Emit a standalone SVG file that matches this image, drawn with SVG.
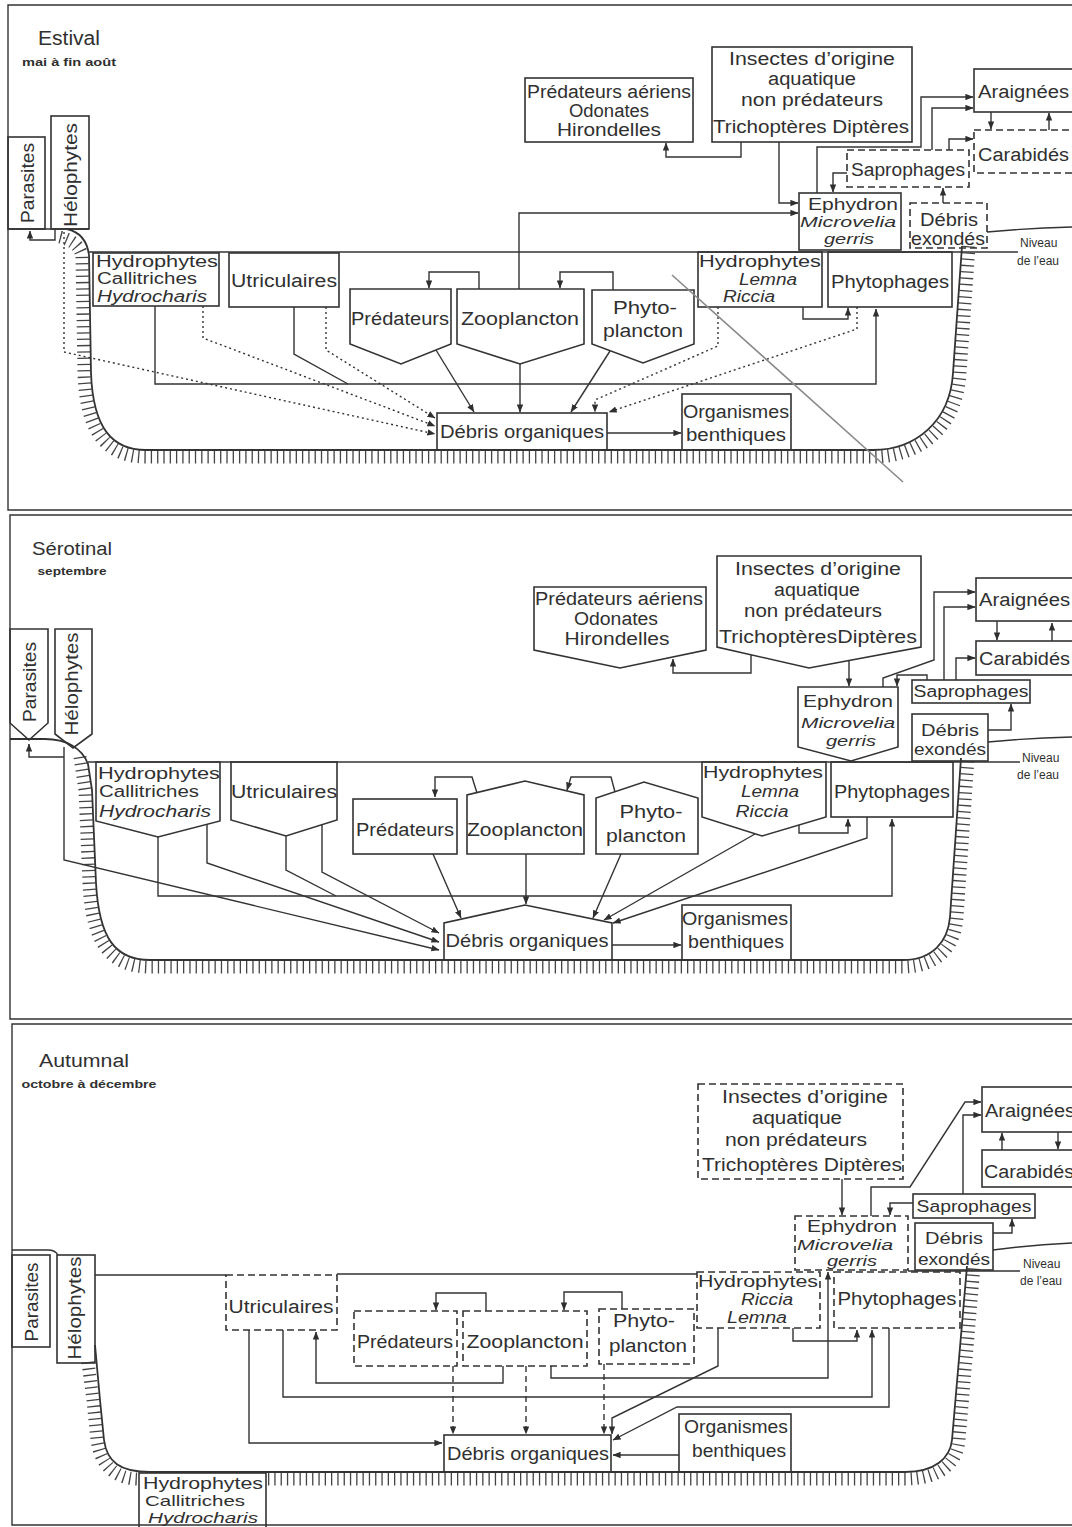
<svg xmlns="http://www.w3.org/2000/svg" width="1072" height="1527" viewBox="0 0 1072 1527">
<defs>
<marker id="ah" viewBox="0 0 10 8" refX="9.5" refY="4" markerWidth="8" markerHeight="6.5" markerUnits="userSpaceOnUse" orient="auto"><path d="M0,0 L10,4 L0,8 z" fill="#2f2f2f"/></marker>
</defs>
<style>
.bx{fill:none;stroke:#333;stroke-width:1.6}
.dx{stroke-dasharray:7 4}
.ln{fill:none;stroke:#333;stroke-width:1.4}
.ar{marker-end:url(#ah)}
.dt{stroke-dasharray:2 3}
.ds{stroke-dasharray:6 4}
.tk{fill:none;stroke:#444;stroke-width:13;stroke-dasharray:1.3 5}
.bank{fill:none;stroke:#333;stroke-width:1.8}
text{font-family:"Liberation Sans",Arial,sans-serif;font-size:18px;fill:#303030;text-anchor:middle}
.s{text-anchor:start}
.i{font-style:italic}
.sm{font-size:12px;text-anchor:start}
.ti{font-size:20px}
.sub{font-size:11px;font-weight:bold}
.f16{font-size:16px}
.f15{font-size:15px}
</style>
<rect width="1072" height="1527" fill="#fff"/>

<!-- ================= PANEL 1 : ESTIVAL ================= -->
<g id="p1-scene">
<path class="ln" d="M1072,5 H8 V510 H1072"/>
<path class="ln" d="M8,229 H89"/>
<path class="ln" d="M89,252 H1018"/>
<path class="tk" d="M60,237 C72,240 80,246 82,256 L84,373 C86,434 108,457 146,457 L873,457 C920,457 957,427 960,373 L969,246"/>
<path class="bank" d="M67,229 C80,232 87,240 89,255 L91,373 C93,428 112,450 146,450 L873,450 C915,450 950,422 953,373 L962,246"/>
<path class="ln" d="M987,232 Q1030,228 1072,227"/>
<text x="69" y="45" class="ti" textLength="62" lengthAdjust="spacingAndGlyphs">Estival</text>
<text x="69" y="66" class="sub" textLength="94" lengthAdjust="spacingAndGlyphs">mai à fin août</text>
<text x="1020" y="247" class="sm">Niveau</text>
<text x="1017" y="265" class="sm">de l’eau</text>
</g>
<g id="p1-connectors">
<path class="ln ar" d="M55,229 V240 H30 V231"/>
<path class="ln ar dt" d="M64,232 V352 L435,434"/>
<path class="ln ar dt" d="M203,306 V338 L435,426"/>
<path class="ln ar dt" d="M326,307 V350 L435,418"/>
<path class="ln ar" d="M155,306 V384 H876 V309"/>
<path class="ln" d="M294,307 V354 L348,384"/>
<path class="ln ar" d="M436,350 L474,412"/>
<path class="ln ar" d="M520,364 V412"/>
<path class="ln ar" d="M610,351 L571,412"/>
<path class="ln ar" d="M479,289 V272 H429 V288"/>
<path class="ln ar" d="M613,290 V272 H560 V288"/>
<path class="ln ar dt" d="M718,307 V346 L595,400 V412"/>
<path class="ln ar dt" d="M857,307 V329 L609,412"/>
<path class="ln ar" d="M803,307 V319 H848 V308"/>
<path class="ln ar" d="M607,433 H681"/>
<path class="ln ar" d="M519,289 V213 H798"/>
<path class="ln ar" d="M741,142 V157 H666 V143"/>
<path class="ln ar" d="M779,142 V203 H798"/>
<path class="ln ar" d="M817,193 V147 H921 V97 H973"/>
<path class="ln ar" d="M932,150 V108 H973"/>
<path class="ln ar" d="M949,150 V139 H973"/>
<path class="ln ar" d="M847,173 H833 V192"/>
<path class="ln ar" d="M943,203 V188"/>
<path class="ln ar" d="M991,112 V129"/>
<path class="ln ar" d="M1049,130 V113"/>
</g>
<g id="p1-parasites"><rect class="bx" x="8" y="137" width="37" height="92"/><text transform="translate(34,183) rotate(-90)" textLength="80" lengthAdjust="spacingAndGlyphs">Parasites</text></g>
<g id="p1-helophytes"><rect class="bx" x="51" y="116" width="38" height="113"/><text transform="translate(77,175) rotate(-90)" textLength="104" lengthAdjust="spacingAndGlyphs">Hélophytes</text></g>
<g id="p1-hydrophytes-callitriches"><rect class="bx" x="93" y="253" width="126" height="53"/>
<text class="s f16" x="96" y="267" textLength="122" lengthAdjust="spacingAndGlyphs">Hydrophytes</text>
<text class="s f16" x="97" y="284" textLength="100" lengthAdjust="spacingAndGlyphs">Callitriches</text>
<text class="s i f16" x="97" y="302" textLength="110" lengthAdjust="spacingAndGlyphs">Hydrocharis</text></g>
<g id="p1-utriculaires"><rect class="bx" x="229" y="253" width="110" height="54"/><text x="284" y="287" textLength="106" lengthAdjust="spacingAndGlyphs">Utriculaires</text></g>
<g id="p1-predateurs"><polygon class="bx" points="350,289 451,289 451,344 401,364 350,344"/><text x="400" y="325" textLength="98" lengthAdjust="spacingAndGlyphs">Prédateurs</text></g>
<g id="p1-zooplancton"><polygon class="bx" points="457,289 584,289 584,344 520,364 457,344"/><text x="520" y="325" textLength="118" lengthAdjust="spacingAndGlyphs">Zooplancton</text></g>
<g id="p1-phytoplancton"><polygon class="bx" points="592,290 694,290 694,344 643,363 592,344"/><text x="645" y="314" textLength="64" lengthAdjust="spacingAndGlyphs">Phyto-</text><text x="643" y="337" textLength="80" lengthAdjust="spacingAndGlyphs">plancton</text></g>
<g id="p1-hydrophytes-lemna"><rect class="bx" x="698" y="252" width="124" height="55"/>
<text class="s f16" x="699" y="267" textLength="122" lengthAdjust="spacingAndGlyphs">Hydrophytes</text>
<text class="i f16" x="768" y="285" textLength="58" lengthAdjust="spacingAndGlyphs">Lemna</text>
<text class="i f16" x="749" y="302" textLength="52" lengthAdjust="spacingAndGlyphs">Riccia</text></g>
<g id="p1-phytophages"><rect class="bx" x="828" y="252" width="124" height="55"/><text x="890" y="288" textLength="118" lengthAdjust="spacingAndGlyphs">Phytophages</text></g>
<g id="p1-debris-organiques"><rect class="bx" x="437" y="413" width="170" height="37"/><text x="522" y="438" textLength="164" lengthAdjust="spacingAndGlyphs">Débris organiques</text></g>
<g id="p1-organismes-benthiques"><rect class="bx" x="682" y="394" width="109" height="56"/><text x="736" y="418" textLength="106" lengthAdjust="spacingAndGlyphs">Organismes</text><text x="736" y="441" textLength="100" lengthAdjust="spacingAndGlyphs">benthiques</text></g>
<g id="p1-predateurs-aeriens"><rect class="bx" x="525" y="78" width="168" height="64"/>
<text x="609" y="98" textLength="164" lengthAdjust="spacingAndGlyphs">Prédateurs aériens</text>
<text x="609" y="117" textLength="80" lengthAdjust="spacingAndGlyphs">Odonates</text>
<text x="609" y="136" textLength="104" lengthAdjust="spacingAndGlyphs">Hirondelles</text></g>
<g id="p1-insectes"><rect class="bx" x="712" y="47" width="200" height="95"/>
<text x="812" y="65" textLength="166" lengthAdjust="spacingAndGlyphs">Insectes d’origine</text>
<text x="812" y="85" textLength="88" lengthAdjust="spacingAndGlyphs">aquatique</text>
<text x="812" y="106" textLength="142" lengthAdjust="spacingAndGlyphs">non  prédateurs</text>
<text x="811" y="133" textLength="196" lengthAdjust="spacingAndGlyphs">Trichoptères Diptères</text></g>
<g id="p1-araignees"><rect class="bx" x="974" y="69" width="110" height="43"/><text class="s" x="978" y="98" textLength="91" lengthAdjust="spacingAndGlyphs">Araignées</text></g>
<g id="p1-carabides"><rect class="bx dx" x="974" y="130" width="110" height="43"/><text class="s" x="978" y="161" textLength="91" lengthAdjust="spacingAndGlyphs">Carabidés</text></g>
<g id="p1-saprophages"><rect class="bx dx" x="847" y="150" width="122" height="37"/><text x="908" y="176" textLength="114" lengthAdjust="spacingAndGlyphs">Saprophages</text></g>
<g id="p1-ephydron"><rect class="bx" x="799" y="193" width="102" height="57"/>
<text class="f16" x="853" y="210" textLength="90" lengthAdjust="spacingAndGlyphs">Ephydron</text>
<text class="i f15" x="848" y="227" textLength="96" lengthAdjust="spacingAndGlyphs">Microvelia</text>
<text class="i f15" x="849" y="244" textLength="50" lengthAdjust="spacingAndGlyphs">gerris</text></g>
<g id="p1-debris-exondes"><rect class="bx dx" x="910" y="203" width="77" height="45"/>
<text x="949" y="226" textLength="58" lengthAdjust="spacingAndGlyphs">Débris</text>
<text x="948" y="245" textLength="74" lengthAdjust="spacingAndGlyphs">exondés</text></g>
<path d="M672,275 L903,482" stroke="#8a8a8a" stroke-width="1.6" fill="none"/>

<!-- ================= PANEL 2 : SEROTINAL ================= -->
<g id="p2-scene">
<path class="ln" d="M1072,515 H10 V1019 H1072"/>
<path class="ln" d="M88,762 H1020"/>
<path class="tk" d="M80,757 L85,790 L89,883 C92,945 112,967 150,967 L903,967 C937,967 955,947 957,917 L968,758"/>
<path class="bank" d="M10,739 H45 C66,739 82,748 88,764 L92,790 L96,883 C99,938 115,960 150,960 L903,960 C932,960 948,942 950,917 L961,758"/>
<path class="ln" d="M988,742 Q1030,738 1072,737"/>
<text x="72" y="555" font-size="19" textLength="80" lengthAdjust="spacingAndGlyphs">Sérotinal</text>
<text x="72" y="575" class="sub" textLength="69" lengthAdjust="spacingAndGlyphs">septembre</text>
<text x="1022" y="762" class="sm">Niveau</text>
<text x="1017" y="779" class="sm">de l’eau</text>
</g>
<g id="p2-connectors">
<path class="ln ar" d="M64,757 H29 V744"/>
<path class="ln ar" d="M64,747 V860 L439,950"/>
<path class="ln ar" d="M158,837 V896 H892 V819"/>
<path class="ln ar" d="M207,824 V863 L439,942"/>
<path class="ln" d="M286,836 V870 L336,896"/>
<path class="ln ar" d="M322,825 V872 L439,933"/>
<path class="ln ar" d="M433,854 L461,918"/>
<path class="ln ar" d="M526,854 V904"/>
<path class="ln ar" d="M477,793 L472,777 H435 V797"/>
<path class="ln ar" d="M615,792 L611,777 H571 L567,790"/>
<path class="ln ar" d="M621,854 L593,918"/>
<path class="ln ar" d="M755,834 L604,920"/>
<path class="ln ar" d="M867,817 V838 L613,923"/>
<path class="ln ar" d="M799,825 V833 H848 V819"/>
<path class="ln ar" d="M612,945 H681"/>
<path class="ln ar" d="M751,655 V673 H673 V659"/>
<path class="ln ar" d="M849,661 V686"/>
<path class="ln ar" d="M883,687 V678 L934,660 V592 H975"/>
<path class="ln ar" d="M944,680 V607 H975"/>
<path class="ln ar" d="M956,680 V658 H975"/>
<path class="ln ar" d="M927,680 V675 H897 V686"/>
<path class="ln ar" d="M988,730 H1011 V704"/>
<path class="ln ar" d="M997,621 V640"/>
<path class="ln ar" d="M1052,641 V623"/>
</g>
<g id="p2-parasites"><polygon class="bx" points="10,629 48,629 48,723 29,740 10,723"/><text transform="translate(36,682) rotate(-90)" textLength="80" lengthAdjust="spacingAndGlyphs">Parasites</text></g>
<g id="p2-helophytes"><polygon class="bx" points="55,629 92,629 92,734 73,748 55,734"/><text transform="translate(78,684) rotate(-90)" textLength="103" lengthAdjust="spacingAndGlyphs">Hélophytes</text></g>
<g id="p2-hydrophytes-callitriches"><polygon class="bx" points="96,762 220,762 220,821 158,837 96,821"/>
<text class="s f16" x="98" y="779" textLength="122" lengthAdjust="spacingAndGlyphs">Hydrophytes</text>
<text class="s f16" x="99" y="797" textLength="100" lengthAdjust="spacingAndGlyphs">Callitriches</text>
<text class="s i f16" x="99" y="817" textLength="112" lengthAdjust="spacingAndGlyphs">Hydrocharis</text></g>
<g id="p2-utriculaires"><polygon class="bx" points="231,762 337,762 337,820 286,836 231,820"/><text x="284" y="798" textLength="106" lengthAdjust="spacingAndGlyphs">Utriculaires</text></g>
<g id="p2-predateurs"><rect class="bx" x="353" y="799" width="104" height="55"/><text x="405" y="836" textLength="98" lengthAdjust="spacingAndGlyphs">Prédateurs</text></g>
<g id="p2-zooplancton"><polygon class="bx" points="467,854 467,795 525,781 584,795 584,854"/><text x="525" y="836" textLength="116" lengthAdjust="spacingAndGlyphs">Zooplancton</text></g>
<g id="p2-phytoplancton"><polygon class="bx" points="596,854 596,798 644,782 698,798 698,854"/><text x="651" y="818" textLength="63" lengthAdjust="spacingAndGlyphs">Phyto-</text><text x="646" y="842" textLength="80" lengthAdjust="spacingAndGlyphs">plancton</text></g>
<g id="p2-hydrophytes-lemna"><polygon class="bx" points="702,762 826,762 826,817 762,836 702,817"/>
<text class="s f16" x="703" y="778" textLength="120" lengthAdjust="spacingAndGlyphs">Hydrophytes</text>
<text class="i f16" x="770" y="797" textLength="58" lengthAdjust="spacingAndGlyphs">Lemna</text>
<text class="i f16" x="762" y="817" textLength="53" lengthAdjust="spacingAndGlyphs">Riccia</text></g>
<g id="p2-phytophages"><rect class="bx" x="831" y="762" width="122" height="55"/><text x="892" y="798" textLength="116" lengthAdjust="spacingAndGlyphs">Phytophages</text></g>
<g id="p2-debris-organiques"><polygon class="bx" points="444,960 444,923 525,905 612,923 612,960"/><text x="527" y="947" textLength="163" lengthAdjust="spacingAndGlyphs">Débris organiques</text></g>
<g id="p2-organismes-benthiques"><rect class="bx" x="682" y="905" width="109" height="55"/><text x="735" y="925" textLength="106" lengthAdjust="spacingAndGlyphs">Organismes</text><text x="736" y="948" textLength="96" lengthAdjust="spacingAndGlyphs">benthiques</text></g>
<g id="p2-predateurs-aeriens"><polygon class="bx" points="534,587 706,587 706,650 620,668 534,650"/>
<text x="619" y="605" textLength="168" lengthAdjust="spacingAndGlyphs">Prédateurs aériens</text>
<text x="616" y="625" textLength="84" lengthAdjust="spacingAndGlyphs">Odonates</text>
<text x="617" y="645" textLength="105" lengthAdjust="spacingAndGlyphs">Hirondelles</text></g>
<g id="p2-insectes"><polygon class="bx" points="717,556 921,556 921,647 809,668 717,647"/>
<text x="818" y="575" textLength="166" lengthAdjust="spacingAndGlyphs">Insectes d’origine</text>
<text x="817" y="596" textLength="86" lengthAdjust="spacingAndGlyphs">aquatique</text>
<text x="813" y="617" textLength="138" lengthAdjust="spacingAndGlyphs">non  prédateurs</text>
<text x="818" y="643" textLength="198" lengthAdjust="spacingAndGlyphs">TrichoptèresDiptères</text></g>
<g id="p2-araignees"><rect class="bx" x="976" y="578" width="110" height="43"/><text class="s" x="979" y="606" textLength="91" lengthAdjust="spacingAndGlyphs">Araignées</text></g>
<g id="p2-carabides"><rect class="bx" x="976" y="641" width="110" height="34"/><text class="s" x="979" y="665" textLength="91" lengthAdjust="spacingAndGlyphs">Carabidés</text></g>
<g id="p2-saprophages"><rect class="bx" x="912" y="680" width="118" height="23"/><text class="f16" x="971" y="697" textLength="115" lengthAdjust="spacingAndGlyphs">Saprophages</text></g>
<g id="p2-ephydron"><polygon class="bx" points="798,687 898,687 898,747 851,761 798,747"/>
<text class="f16" x="848" y="707" textLength="90" lengthAdjust="spacingAndGlyphs">Ephydron</text>
<text class="i f15" x="848" y="728" textLength="94" lengthAdjust="spacingAndGlyphs">Microvelia</text>
<text class="i f15" x="851" y="746" textLength="50" lengthAdjust="spacingAndGlyphs">gerris</text></g>
<g id="p2-debris-exondes"><rect class="bx" x="912" y="714" width="76" height="47"/>
<text class="f16" x="950" y="736" textLength="58" lengthAdjust="spacingAndGlyphs">Débris</text>
<text class="f16" x="950" y="755" textLength="72" lengthAdjust="spacingAndGlyphs">exondés</text></g>

<!-- ================= PANEL 3 : AUTUMNAL ================= -->
<g id="p3-scene">
<path class="ln" d="M1072,1024 H12 V1525 H1072"/>
<path class="ln" d="M12,1250 H48 Q55,1250 58,1255"/>
<path class="ln" d="M95,1275 H226 M337,1274 H697 M908,1271 H1020"/>
<path class="tk" d="M88,1362 L93,1400 L97,1440 C101,1468 118,1479 139,1479"/>
<path class="tk" d="M268,1479 L905,1479 C940,1479 957,1463 959,1440 L974,1266"/>
<path class="bank" d="M95,1345 L100,1400 L104,1440 C107,1462 120,1472 150,1472 L905,1472 C935,1472 950,1458 952,1440 L967,1266"/>
<path class="ln" d="M993,1250 Q1030,1245 1072,1243"/>
<text x="84" y="1067" font-size="19" textLength="90" lengthAdjust="spacingAndGlyphs">Autumnal</text>
<text x="89" y="1088" class="sub" textLength="135" lengthAdjust="spacingAndGlyphs">octobre à décembre</text>
<text x="1023" y="1268" class="sm">Niveau</text>
<text x="1020" y="1285" class="sm">de l’eau</text>
</g>
<g id="p3-connectors">
<path class="ln ar" d="M249,1330 V1443 H442"/>
<path class="ln ar" d="M503,1366 V1383 H316 V1332"/>
<path class="ln ar" d="M283,1330 V1397 H872 V1330"/>
<path class="ln ar" d="M551,1366 V1378 H828 V1272"/>
<path class="ln ar ds" d="M453,1366 V1434"/>
<path class="ln ar ds" d="M526,1366 V1434"/>
<path class="ln ar ds" d="M604,1364 V1434"/>
<path class="ln ar" d="M718,1328 V1366 L612,1418 V1434"/>
<path class="ln ar" d="M889,1328 V1407 H677 L613,1440"/>
<path class="ln ar" d="M679,1455 H613"/>
<path class="ln ar" d="M486,1311 V1293 H436 V1310"/>
<path class="ln ar" d="M622,1309 V1292 H564 V1310"/>
<path class="ln ar" d="M793,1328 V1341 H857 V1330"/>
<path class="ln ar" d="M842,1179 V1215"/>
<path class="ln ar" d="M871,1216 V1187 H910 L965,1102 H981"/>
<path class="ln ar" d="M963,1194 V1115 H981"/>
<path class="ln ar" d="M913,1203 H890 V1215"/>
<path class="ln ar" d="M993,1233 H1012 V1219"/>
<path class="ln ar" d="M1002,1150 V1133"/>
<path class="ln ar" d="M1058,1132 V1149"/>
</g>
<g id="p3-parasites"><rect class="bx" x="12" y="1255" width="38" height="92"/><text transform="translate(38,1302) rotate(-90)" textLength="79" lengthAdjust="spacingAndGlyphs">Parasites</text></g>
<g id="p3-helophytes"><rect class="bx" x="57" y="1255" width="38" height="108"/><text transform="translate(81,1308) rotate(-90)" textLength="103" lengthAdjust="spacingAndGlyphs">Hélophytes</text></g>
<g id="p3-utriculaires"><rect class="bx dx" x="226" y="1275" width="111" height="55"/><text x="281" y="1313" textLength="105" lengthAdjust="spacingAndGlyphs">Utriculaires</text></g>
<g id="p3-predateurs"><rect class="bx dx" x="354" y="1311" width="103" height="55"/><text x="405" y="1348" textLength="96" lengthAdjust="spacingAndGlyphs">Prédateurs</text></g>
<g id="p3-zooplancton"><rect class="bx dx" x="463" y="1311" width="124" height="55"/><text x="525" y="1348" textLength="117" lengthAdjust="spacingAndGlyphs">Zooplancton</text></g>
<g id="p3-phytoplancton"><rect class="bx dx" x="599" y="1309" width="95" height="55"/><text x="644" y="1327" textLength="62" lengthAdjust="spacingAndGlyphs">Phyto-</text><text x="648" y="1352" textLength="78" lengthAdjust="spacingAndGlyphs">plancton</text></g>
<g id="p3-hydrophytes-lemna"><rect class="bx dx" x="697" y="1272" width="123" height="56"/>
<text class="s f16" x="698" y="1287" textLength="120" lengthAdjust="spacingAndGlyphs">Hydrophytes</text>
<text class="i f16" x="767" y="1305" textLength="52" lengthAdjust="spacingAndGlyphs">Riccia</text>
<text class="i f16" x="757" y="1323" textLength="60" lengthAdjust="spacingAndGlyphs">Lemna</text></g>
<g id="p3-phytophages"><rect class="bx dx" x="834" y="1272" width="126" height="56"/><text x="897" y="1305" textLength="119" lengthAdjust="spacingAndGlyphs">Phytophages</text></g>
<g id="p3-debris-organiques"><rect class="bx" x="444" y="1435" width="167" height="37"/><text x="528" y="1460" textLength="162" lengthAdjust="spacingAndGlyphs">Débris organiques</text></g>
<g id="p3-organismes-benthiques"><rect class="bx" x="679" y="1414" width="112" height="58"/><text x="736" y="1433" textLength="104" lengthAdjust="spacingAndGlyphs">Organismes</text><text x="739" y="1457" textLength="94" lengthAdjust="spacingAndGlyphs">benthiques</text></g>
<g id="p3-hydrophytes-callitriches"><rect class="bx" x="139" y="1473" width="127" height="60"/>
<text class="s f16" x="143" y="1489" textLength="120" lengthAdjust="spacingAndGlyphs">Hydrophytes</text>
<text class="s f15" x="145" y="1506" textLength="100" lengthAdjust="spacingAndGlyphs">Callitriches</text>
<text class="s i f15" x="148" y="1523" textLength="110" lengthAdjust="spacingAndGlyphs">Hydrocharis</text></g>
<g id="p3-insectes"><rect class="bx dx" x="698" y="1084" width="205" height="95"/>
<text x="805" y="1103" textLength="166" lengthAdjust="spacingAndGlyphs">Insectes d’origine</text>
<text x="797" y="1124" textLength="90" lengthAdjust="spacingAndGlyphs">aquatique</text>
<text x="796" y="1146" textLength="142" lengthAdjust="spacingAndGlyphs">non  prédateurs</text>
<text x="802" y="1171" textLength="200" lengthAdjust="spacingAndGlyphs">Trichoptères Diptères</text></g>
<g id="p3-araignees"><rect class="bx" x="982" y="1087" width="110" height="45"/><text class="s" x="985" y="1117" textLength="90" lengthAdjust="spacingAndGlyphs">Araignées</text></g>
<g id="p3-carabides"><rect class="bx" x="982" y="1150" width="110" height="37"/><text class="s" x="984" y="1178" textLength="90" lengthAdjust="spacingAndGlyphs">Carabidés</text></g>
<g id="p3-saprophages"><rect class="bx" x="913" y="1194" width="122" height="24"/><text class="f16" x="974" y="1212" textLength="115" lengthAdjust="spacingAndGlyphs">Saprophages</text></g>
<g id="p3-ephydron"><rect class="bx dx" x="795" y="1216" width="113" height="54"/>
<text class="f16" x="852" y="1232" textLength="90" lengthAdjust="spacingAndGlyphs">Ephydron</text>
<text class="i f15" x="845" y="1250" textLength="96" lengthAdjust="spacingAndGlyphs">Microvelia</text>
<text class="i f15" x="852" y="1266" textLength="50" lengthAdjust="spacingAndGlyphs">gerris</text></g>
<g id="p3-debris-exondes"><rect class="bx" x="915" y="1223" width="78" height="47"/>
<text class="f16" x="954" y="1244" textLength="58" lengthAdjust="spacingAndGlyphs">Débris</text>
<text class="f16" x="954" y="1265" textLength="72" lengthAdjust="spacingAndGlyphs">exondés</text></g>
</svg>
